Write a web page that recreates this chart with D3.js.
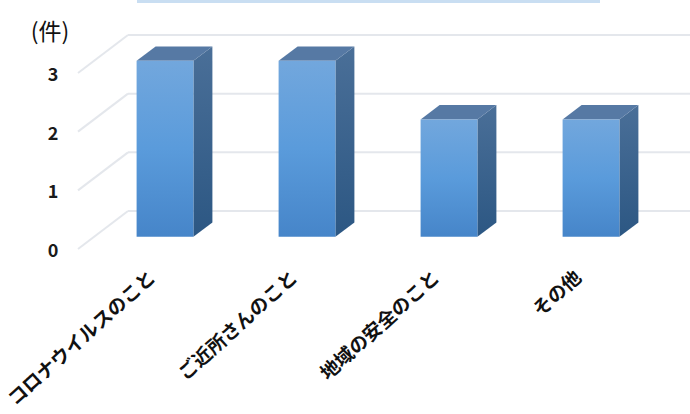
<!DOCTYPE html>
<html>
<head>
<meta charset="utf-8">
<script src="https://cdn.jsdelivr.net/npm/d3@7"></script>
<style>
  body { margin: 0; background: #fff; }
  svg { display: block; font-family: "Noto Sans CJK JP", sans-serif; }
</style>
</head>
<body>
<svg id="chart" width="690" height="414"></svg>
<script>
const categories = ["コロナウイルスのこと", "ご近所さんのこと", "地域の安全のこと", "その他"];
const values = [3, 3, 2, 2];
const yTicks = [0, 1, 2, 3];
const unitLabel = "(件)";

const svg = d3.select("#chart");

// back wall and depth offset of the 3d floor
const wall = {left: 128, right: 696, top: 35, bottom: 211};
const depth = {dx: -50, dy: 38};
const barZ = {back: 0.3, front: 0.68};

const x = d3.scaleBand()
    .domain(categories)
    .range([wall.left, wall.right])
    .paddingInner(0.6)
    .paddingOuter(0.3);

const y = d3.scaleLinear()
    .domain([0, 3])
    .range([wall.bottom, wall.top]);

function proj(px, v, z) {
    return [px + depth.dx * z, y(v) + depth.dy * z];
}

// title box edge at the top
svg.append("rect")
    .attr("x", 137).attr("y", -2)
    .attr("width", 463).attr("height", 5)
    .attr("fill", "#c9def2");

const defs = svg.append("defs");
const gFront = defs.append("linearGradient").attr("id", "front")
    .attr("x1", 0).attr("y1", 0).attr("x2", 0).attr("y2", 1);
gFront.append("stop").attr("offset", "0%").attr("stop-color", "#72a7dd");
gFront.append("stop").attr("offset", "50%").attr("stop-color", "#5a9bdb");
gFront.append("stop").attr("offset", "100%").attr("stop-color", "#4685c9");
const gSide = defs.append("linearGradient").attr("id", "side")
    .attr("x1", 0).attr("y1", 0).attr("x2", 0).attr("y2", 1);
gSide.append("stop").attr("offset", "0%").attr("stop-color", "#4a6f98");
gSide.append("stop").attr("offset", "100%").attr("stop-color", "#2c5783");

// gridlines on the wall plus the slanted side lines
const grid = svg.append("g").attr("stroke", "#e4e7ec").attr("stroke-width", 2).attr("fill", "none");
yTicks.forEach(t => {
    grid.append("line")
        .attr("x1", wall.left).attr("y1", y(t))
        .attr("x2", wall.right).attr("y2", y(t));
    const p = proj(wall.left, t, 1);
    grid.append("line")
        .attr("x1", wall.left).attr("y1", y(t))
        .attr("x2", p[0]).attr("y2", p[1]);
});

svg.append("g")
    .selectAll("text")
    .data(yTicks)
    .join("text")
    .attr("x", d => proj(wall.left, d, 1)[0] - 25)
    .attr("y", d => proj(wall.left, d, 1)[1])
    .attr("text-anchor", "middle")
    .attr("dominant-baseline", "central")
    .attr("font-size", 18)
    .attr("font-weight", "bold")
    .attr("fill", "#1a1a1a")
    .text(d => d);

svg.append("text")
    .attr("x", 50).attr("y", 30)
    .attr("text-anchor", "middle")
    .attr("dominant-baseline", "central")
    .attr("font-size", 23)
    .attr("fill", "#111")
    .text(unitLabel);

// bars
const line = d3.line();
const bars = svg.append("g")
    .selectAll("g")
    .data(categories.map((c, i) => ({c: c, v: values[i]})))
    .join("g");

bars.append("path")
    .attr("fill", "url(#side)")
    .attr("d", d => {
        const xr = x(d.c) + x.bandwidth();
        return line([proj(xr, 0, barZ.front), proj(xr, d.v, barZ.front),
            proj(xr, d.v, barZ.back), proj(xr, 0, barZ.back)]) + "Z";
    });

bars.append("path")
    .attr("fill", "#5679a4")
    .attr("d", d => {
        const xl = x(d.c), xr = xl + x.bandwidth();
        return line([proj(xl, d.v, barZ.front), proj(xr, d.v, barZ.front),
            proj(xr, d.v, barZ.back), proj(xl, d.v, barZ.back)]) + "Z";
    });

bars.append("path")
    .attr("fill", "url(#front)")
    .attr("d", d => {
        const xl = x(d.c), xr = xl + x.bandwidth();
        return line([proj(xl, 0, barZ.front), proj(xl, d.v, barZ.front),
            proj(xr, d.v, barZ.front), proj(xr, 0, barZ.front)]) + "Z";
    });

// category labels, rotated, ending just left of each bar's front centre
svg.append("g")
    .selectAll("text")
    .data(categories)
    .join("text")
    .attr("transform", d => {
        const cx = proj(x(d) + x.bandwidth() / 2, 0, barZ.front)[0] - 14;
        return `translate(${cx},273) rotate(-42)`;
    })
    .attr("text-anchor", "end")
    .attr("dominant-baseline", "central")
    .attr("font-size", 19)
    .attr("font-weight", "bold")
    .attr("fill", "#111")
    .text(d => d);
</script>
</body>
</html>
